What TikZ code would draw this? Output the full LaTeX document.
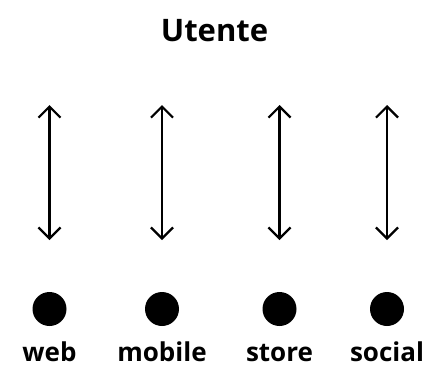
\documentclass[tikz,border=0pt]{standalone}
\usepackage{fontspec}
\setmainfont{Open Sans}
\usetikzlibrary{arrows.meta}
\begin{document}
\begin{tikzpicture}[x=1pt,y=-1pt,
  lbl/.style={font=\bfseries\fontsize{26}{30}\selectfont, anchor=base, inner sep=0pt},
  dot/.style={circle, fill=black, minimum size=34pt, inner sep=0pt},
  link/.style={line width=2.2pt, {Straight Barb[length=11pt,width=22pt,line width=2.2pt]}-{Straight Barb[length=11pt,width=22pt,line width=2.2pt]}}]
\useasboundingbox (0,0) rectangle (429,367);
\node[font=\bfseries\fontsize{31}{36}\selectfont, anchor=base, inner sep=0pt] (title) at (214.5,41) {Utente};
\foreach \x/\n/\t in {49.5/web/web,162/mobile/mobile,279.5/store/store,387/social/social}{
  \coordinate (\n-top) at (\x,105);
  \coordinate (\n-bot) at (\x,240);
  \draw[link] (\n-top) -- (\n-bot);
  \node[dot] (\n-dot) at (\x,309) {};
  \node[lbl] (\n-lbl) at (\x,361) {\t};
}
\end{tikzpicture}
\end{document}
